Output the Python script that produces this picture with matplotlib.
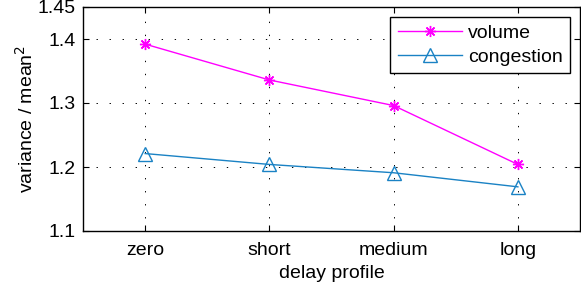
import matplotlib
matplotlib.use("Agg")
import matplotlib.pyplot as plt

categories = ["zero", "short", "medium", "long"]
volume = [1.392, 1.336, 1.296, 1.204]
congestion = [1.221, 1.204, 1.191, 1.169]
yticks = [1.1, 1.2, 1.3, 1.4, 1.45]
ytick_labels = ["1.1", "1.2", "1.3", "1.4", "1.45"]

plt.rcParams['font.family'] = ['Liberation Sans', 'DejaVu Sans']
plt.rcParams['font.size'] = 14

fig = plt.figure(figsize=(5.81, 2.86), dpi=100)
ax = fig.add_axes([83/581, 1 - 231/286, (580-83)/581, (231-7)/286])

x = list(range(1, len(categories) + 1))
ax.plot(x, volume, color='#ff00ff', lw=1, marker=(8, 2, 0), ms=8, mew=1,
        label='volume')
ax.plot(x, congestion, color='#1a82c4', lw=1, marker='^', ms=10, mew=1,
        mfc='none', label='congestion')

ax.set_xlim(0.5, 4.5)
ax.set_ylim(1.1, 1.45)
ax.set_xticks(x)
ax.set_xticklabels(categories)
ax.set_yticks(yticks)
ax.set_yticklabels(ytick_labels)
ax.tick_params(direction='in', top=True, right=True, length=4, width=0.8,
               labelsize=14, pad=5)
ax.tick_params(axis='x', pad=8)
ax.grid(True, linestyle=(0, (1.4, 12)), color='black', lw=0.7)
for s in ax.spines.values():
    s.set_linewidth(1)
ax.set_xlabel('delay profile', fontsize=14, labelpad=4)
ax.set_ylabel('variance / mean$^2$', fontsize=14, labelpad=1)

leg = ax.legend(loc='upper right', fontsize=14, handlelength=3.3,
                frameon=True, fancybox=False, edgecolor='black',
                borderpad=0.4, labelspacing=0.3, handletextpad=0.3,
                borderaxespad=0.5)
leg.get_frame().set_linewidth(1)
leg.get_frame().set_alpha(1)

fig.savefig('out.png', dpi=100)
